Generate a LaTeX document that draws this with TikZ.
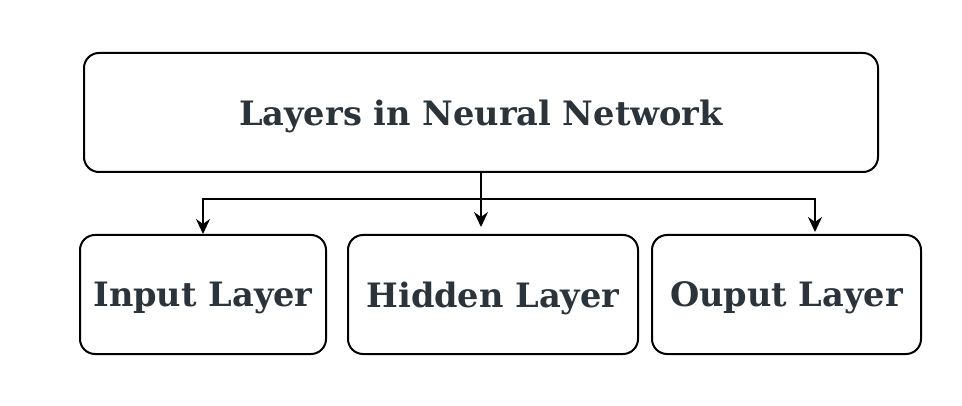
\documentclass[tikz,border=0pt]{standalone}
\usepackage{fontspec}
\setmainfont{DejaVu Serif}
\usetikzlibrary{arrows.meta}
\definecolor{labelgray}{RGB}{43,51,59}

\begin{document}
\begin{tikzpicture}[x=1pt, y=-1pt,
    layer/.style={draw, line width=2pt, rounded corners=15pt, inner sep=0pt,
        minimum height=119pt, text depth=0pt, text=labelgray,
        font=\fontsize{33.6}{40}\selectfont\bfseries},
    link/.style={line width=2pt, -{Stealth[length=15pt, width=14pt, inset=5pt]}}]
        \useasboundingbox (0, 0) rectangle (962, 406);

        \node[layer, minimum width=794pt] (network) at (481, 112.5) {Layers in Neural Network};
        \node[layer, minimum width=246pt] (input) at (203, 294.5) {Input Layer};
        \node[layer, minimum width=290pt] (hidden) at (493, 294.5) {Hidden Layer};
        \node[layer, minimum width=269pt] (output) at (786.5, 294.5) {Ouput Layer};

        \coordinate (split) at (481, 199);
        \coordinate (hiddentip) at (481, 227);
        \coordinate (outputtip) at (815, 232);

        \draw [line width=2pt] (network.south) -- (split);
        \draw [link] (split) -| (input.north);
        \draw [link] (split) -- (hiddentip);
        \draw [link] (split) -| (outputtip);
    \end{tikzpicture}
\end{document}
